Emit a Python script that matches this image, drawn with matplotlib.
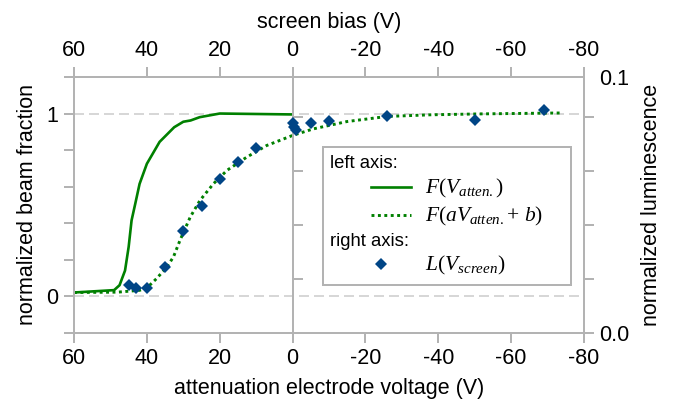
import matplotlib
matplotlib.use('Agg')
import matplotlib.pyplot as plt
from matplotlib.lines import Line2D
from matplotlib.legend_handler import HandlerLine2D

plt.rcParams['font.family'] = ['Liberation Sans', 'DejaVu Sans']
plt.rcParams['mathtext.fontset'] = 'custom'
plt.rcParams['mathtext.rm'] = 'Liberation Serif'
plt.rcParams['mathtext.it'] = 'Liberation Serif:italic'
plt.rcParams['axes.unicode_minus'] = False

# F(V_atten.) measured curve (left axis)
atten_v = [60, 49, 47.5, 46, 45, 44.2, 43.2, 42, 40, 36.5, 32.5, 30, 28, 25.5, 20, 0]
atten_f = [0.02, 0.033, 0.06, 0.14, 0.27, 0.415, 0.505, 0.615, 0.725, 0.845,
           0.925, 0.955, 0.962, 0.98, 1.0, 0.995]

# F(a V_atten. + b) rescaled curve (left axis)
scaled_v = [60, 48, 42, 40, 37.3, 34.5, 32.7, 30.9, 28.1, 25.4, 21.7, 18, 12.6,
            7.1, 0, -5.7, -14.9, -25.9, -37.8, -51.5, -73.5]
scaled_f = [0.02, 0.022, 0.032, 0.045, 0.097, 0.16, 0.215, 0.306, 0.433, 0.525,
            0.616, 0.689, 0.761, 0.825, 0.88, 0.916, 0.956, 0.984, 0.993, 0.998, 1.003]

# L(V_screen) luminescence points (right axis)
screen_v = [45, 43, 40, 35, 30, 25, 20, 15, 10, 0, -0.3, -1, -5, -10, -26, -50, -69]
lum = [0.0177, 0.0165, 0.0165, 0.0245, 0.0379, 0.0472, 0.0570, 0.0635, 0.0685,
       0.0778, 0.0765, 0.0753, 0.0780, 0.0788, 0.0805, 0.0790, 0.0827]

x_ticks = [60, 40, 20, 0, -20, -40, -60, -80]
left_ticks = [-0.2, 0, 0.2, 0.4, 0.6, 0.8, 1.0, 1.2]
left_labels = ['', '0', '', '', '', '', '1', '']
right_ticks = [0, 0.02, 0.04, 0.06, 0.08, 0.095]
right_labels = ['0.0', '', '', '', '', '0.1']

gray = '#b3b3b3'
green = '#008000'
blue = '#004586'
lw_axis = 1.44
fs = 15.5
leg_fs = 13.3

fig = plt.figure(figsize=(6.86, 4.07), dpi=100)
ax = fig.add_axes([0.1079, 0.1826, 0.7434, 0.6282])
ax.set_xlim(60, -80)
ax.set_ylim(-0.2, 1.2)

for y in (0, 1):
    ax.axhline(y, color='#cfcfcf', lw=1.2, linestyle=(0, (6, 3)), zorder=1)

ax.plot(atten_v, atten_f, color=green, lw=1.9, zorder=3)
ax.plot(scaled_v, scaled_f, color=green, lw=2.1, linestyle=(0, (1, 1.2)), zorder=3)

ax.set_xticks(x_ticks)
ax.set_yticks(left_ticks, left_labels)
ax.set_xlabel('attenuation electrode voltage (V)', fontsize=fs, labelpad=6)
ax.set_ylabel('normalized beam fraction', fontsize=fs, labelpad=6)

top = ax.secondary_xaxis('top')
top.set_xticks(x_ticks)
top.set_xlabel('screen bias (V)', fontsize=fs, labelpad=9)

ax2 = ax.twinx()
ax2.set_ylim(0, 0.095)
ax2.set_yticks(right_ticks, right_labels)
ax2.yaxis.get_major_ticks()[-1].tick2line.set_visible(False)
ax2.set_ylabel('normalized luminescence', fontsize=fs, labelpad=8)
ax2.plot(screen_v, lum, linestyle='none', marker='D', ms=6.5, mew=0,
         color=blue, zorder=4)

# vertical line at 0 V carrying the right-axis ticks
xl = ax.get_xlim()
zero_pos = (xl[0] - 0) / (xl[0] - xl[1])
mid = ax2.secondary_yaxis(zero_pos)
mid.set_alignment('right')
mid.set_yticks(right_ticks[:-1])

for a in (ax, ax2, top, mid):
    for s in a.spines.values():
        s.set_color(gray)
        s.set_linewidth(lw_axis)
    a.tick_params(direction='out', length=7.2, width=lw_axis, color=gray,
                  labelsize=fs, pad=4)
mid.tick_params(labelleft=False, labelright=False)


class IndentHandler(HandlerLine2D):
    def __init__(self, f0, f1, **kw):
        super().__init__(**kw)
        self.f0, self.f1 = f0, f1

    def get_xdata(self, legend, xdescent, ydescent, width, height, fontsize):
        xs = [-xdescent + self.f0 * width, -xdescent + self.f1 * width]
        return xs, xs


blank = Line2D([], [], linestyle='none')
h_solid = Line2D([], [], color=green, lw=1.9)
h_dot = Line2D([], [], color=green, lw=2.1, linestyle=(0, (1, 1.2)))
h_lum = Line2D([], [], linestyle='none', marker='D', ms=6.5, mew=0, color=blue)
handles = [blank, h_solid, h_dot, blank, h_lum]
labels = ['left axis:', r'$F(V_{atten.})$', r'$F(aV_{atten.}\!+\,b)$',
          'right axis:', r'$L(V_{screen})$']

hl, tp = 4.38, 0.76
leg = ax2.legend(handles, labels, loc='upper left',
                 bbox_to_anchor=(0.4876, 0.193, 0.4875, 0.532), mode='expand',
                 borderaxespad=0, fontsize=leg_fs, handlelength=hl,
                 handletextpad=tp, borderpad=0.42, labelspacing=0.26,
                 fancybox=False, framealpha=1, edgecolor=gray,
                 handler_map={h_lum: IndentHandler(0.6, 0.64, numpoints=1),
                              Line2D: IndentHandler(0.5, 1.0, numpoints=1)})
leg.get_frame().set_linewidth(lw_axis)
shift = (hl + tp) * leg_fs * fig.dpi / 72
for i in (0, 3):
    leg.get_texts()[i].set_x(-shift)
for i in (1, 2, 4):
    leg.get_texts()[i].set_fontsize(15.5)

fig.savefig('out.png', dpi=100)
